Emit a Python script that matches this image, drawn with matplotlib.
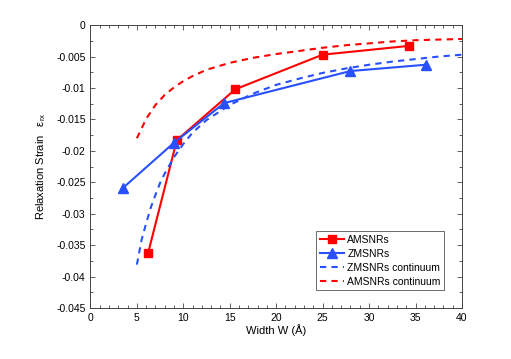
import numpy as np
import matplotlib
matplotlib.use("Agg")
from matplotlib import pyplot as plt
from matplotlib.ticker import MultipleLocator

plt.rcParams['font.family'] = ['Liberation Sans', 'DejaVu Sans']
plt.rcParams['mathtext.fontset'] = 'custom'
plt.rcParams['mathtext.rm'] = 'Liberation Sans'
plt.rcParams['mathtext.it'] = 'Liberation Sans'

# ----------- données -----------
w_amsnr = [6.2, 9.3, 15.6, 25.0, 34.3]
eps_amsnr = [-0.0363, -0.0183, -0.0102, -0.0047, -0.0033]

w_zmsnr = [3.5, 9.0, 14.4, 28.0, 36.1]
eps_zmsnr = [-0.0259, -0.0187, -0.0124, -0.0073, -0.0063]

w_zcont = [5, 5.5, 6, 6.5, 7, 7.5, 8, 9, 10, 11, 12.5, 15, 17.5, 20,
           22.5, 25, 27.5, 30, 32.5, 35, 37.5, 40]
eps_zcont = [-0.0381, -0.0342, -0.0315, -0.0290, -0.0270, -0.0251, -0.0236,
             -0.0210, -0.0189, -0.0171, -0.0151, -0.0127, -0.0109, -0.0095,
             -0.0085, -0.0076, -0.0069, -0.0063, -0.0058, -0.0054, -0.0050,
             -0.0047]

w_acont = [5, 6, 7, 8, 9, 10, 11, 12.5, 15, 17.5, 20, 22.5, 25, 27.5, 30,
           32.5, 35, 37.5, 40]
eps_acont = [-0.0180, -0.0149, -0.0127, -0.0111, -0.0099, -0.0089, -0.0081,
             -0.0071, -0.0060, -0.0052, -0.0046, -0.0041, -0.0036, -0.0032,
             -0.0029, -0.0026, -0.0024, -0.0023, -0.0022]

xticks = [0, 5, 10, 15, 20, 25, 30, 35, 40]
yticks = [0, -0.005, -0.01, -0.015, -0.02, -0.025, -0.03, -0.035, -0.04, -0.045]
ytick_labels = ['0', '-0.005', '-0.01', '-0.015', '-0.02', '-0.025', '-0.03',
                '-0.035', '-0.04', '-0.045']

rouge = '#ff0000'
bleu = '#2850ff'

fig = plt.figure(figsize=(5.11, 3.59), dpi=100)
ax = fig.add_axes([0.177, 0.142, 0.727, 0.788])

ax.plot(w_amsnr, eps_amsnr, '-s', color=rouge, lw=1.5, ms=5.5, label='AMSNRs')
ax.plot(w_zmsnr, eps_zmsnr, '-^', color=bleu, lw=1.5, ms=7, label='ZMSNRs')
ax.plot(w_zcont, eps_zcont, '--', color=bleu, lw=1.5, dashes=(3, 2.5),
        label='ZMSNRs continuum')
ax.plot(w_acont, eps_acont, '--', color=rouge, lw=1.5, dashes=(3, 2.5),
        label='AMSNRs continuum')

ax.set_xlim(0, 40)
ax.set_ylim(-0.045, 0)
ax.set_xticks(xticks)
ax.set_yticks(yticks)
ax.set_yticklabels(ytick_labels)
ax.xaxis.set_minor_locator(MultipleLocator(1))
ax.yaxis.set_minor_locator(MultipleLocator(0.0025))
ax.tick_params(which='both', direction='in', top=True, right=True,
               labelsize=7.5, width=0.6, color='#444444')
ax.tick_params(which='major', length=3.5)
ax.tick_params(which='minor', length=2)
for s in ax.spines.values():
    s.set_linewidth(0.7)
    s.set_color('#444444')

ax.set_xlabel('Width W (Å)', fontsize=8, labelpad=1)
ax.set_ylabel('Relaxation Strain   $\\mathregular{ε_{rx}}$', fontsize=8, labelpad=6)

leg = ax.legend(loc='lower right', fontsize=7.5, frameon=True, fancybox=False,
                edgecolor='#444444', handlelength=2.3, handletextpad=0.3,
                labelspacing=0.38, borderpad=0.35, borderaxespad=1.7)
leg.get_frame().set_linewidth(0.7)

fig.savefig('out.png', dpi=100)
